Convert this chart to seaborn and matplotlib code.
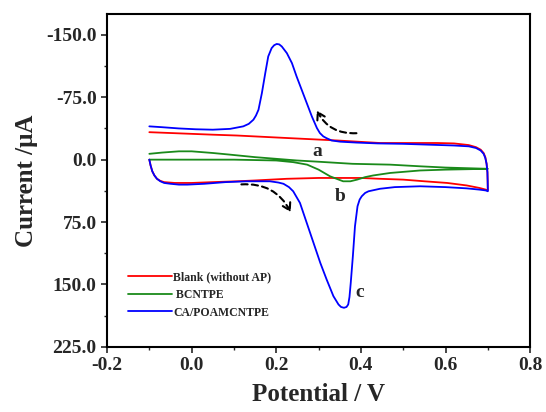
import numpy as np
import pandas as pd
import matplotlib
matplotlib.use("Agg")
import matplotlib.pyplot as plt
from matplotlib.patches import FancyArrowPatch
from matplotlib.ticker import MultipleLocator, FormatStrFormatter
import seaborn as sns

# ---- data ----
blank_E = [-0.100, -0.097, -0.093, -0.088, -0.082, -0.074, -0.065, -0.040, 0.000, 0.050, 0.107,
           0.150, 0.225, 0.300, 0.400, 0.445, 0.500, 0.550, 0.604, 0.650, 0.680, 0.695, 0.700,
           0.6995, 0.699, 0.697, 0.694, 0.690, 0.683, 0.672, 0.655, 0.620, 0.580, 0.500,
           0.445, 0.345, 0.225, 0.107, 0.050, -0.050, -0.100]
blank_I = [0, 7, 14, 19, 23, 25.5, 27, 28, 28, 27, 26,
           25, 23, 22, 22, 23, 24, 26, 28, 31, 34, 36, 37,
           25, 15, 5, -3, -8, -12, -15, -17.5, -19.5, -20, -20,
           -20, -23, -26, -29, -30, -32, -33]

bcnt_E = [-0.100, 0.000, 0.100, 0.200, 0.240, 0.273, 0.300, 0.327, 0.358, 0.375, 0.391,
          0.410, 0.429, 0.469, 0.540, 0.600, 0.650, 0.700,
          0.600, 0.540, 0.469, 0.380, 0.300, 0.249, 0.150, 0.091, 0.050, 0.000, -0.030,
          -0.070, -0.100]
bcnt_I = [0, 0, 0, 1, 3, 6, 12, 20, 26, 26, 24,
          21, 19, 16, 13, 12, 11.5, 11,
          9.5, 8, 6, 5, 2.5, 1, -3, -6, -8, -10, -10,
          -8.5, -7]

ca_E = [-0.100, -0.097, -0.093, -0.088, -0.082, -0.074, -0.065, -0.050, -0.030, -0.010,
        0.030, 0.080, 0.130, 0.185, 0.205, 0.217, 0.230, 0.240, 0.256, 0.272, 0.288, 0.304,
        0.319, 0.335, 0.347, 0.353, 0.360, 0.366, 0.370, 0.373, 0.376, 0.381, 0.386, 0.392,
        0.397, 0.402, 0.410, 0.418, 0.445, 0.480, 0.540, 0.600, 0.650, 0.680, 0.695, 0.700,
        0.6995, 0.699, 0.697, 0.694, 0.690, 0.683, 0.672, 0.655, 0.620, 0.560, 0.500,
        0.440, 0.390, 0.351, 0.331, 0.318, 0.311, 0.303, 0.296, 0.284, 0.272, 0.260, 0.248,
        0.237, 0.225, 0.213, 0.207, 0.201, 0.195, 0.189, 0.181, 0.174, 0.166, 0.158, 0.152,
        0.146, 0.135, 0.122, 0.091, 0.050, 0.010, -0.030, -0.070, -0.100]
ca_I = [0, 7, 14, 19, 23, 26, 28, 29, 30, 30,
        29, 27, 26, 26, 27.5, 29, 33, 38, 52, 76, 100, 124,
        144, 164, 174, 177, 178, 177, 174, 165, 148, 116, 80, 56,
        48, 44, 40, 38, 35, 33, 32, 33, 34.5, 36, 37, 38,
        25, 15, 5, -2, -7, -11, -14, -16, -17, -18, -19,
        -19.5, -20.5, -21.6, -23, -26, -28, -32, -38, -52, -68, -84, -100,
        -116, -128, -136, -138.5, -139, -137.5, -134, -124, -104, -80, -60, -53,
        -48, -43, -40, -37, -36, -36.5, -37.5, -39, -40]

labels = ["Blank (without AP)", " BCNTPE", "CA/POAMCNTPE"]
colors = ["#ff0000", "#1a8a1a", "#0000ff"]

x_ticks = [-0.2, 0.0, 0.2, 0.4, 0.6, 0.8]
y_ticks = [-150.0, -75.0, 0.0, 75.0, 150.0, 225.0]

# ---- style ----
sns.set_theme(style="ticks")
plt.rcParams["font.family"] = ["Liberation Serif", "DejaVu Serif"]
plt.rcParams["font.weight"] = "bold"
plt.rcParams["axes.labelweight"] = "bold"
plt.rcParams["axes.unicode_minus"] = False
plt.rcParams["lines.solid_joinstyle"] = "round"

fig = plt.figure(figsize=(5.46, 4.12), dpi=100)
ax = fig.add_axes([0.196, 0.158, 0.775, 0.808])

frames = []
for E, I, lab in zip([blank_E, bcnt_E, ca_E], [blank_I, bcnt_I, ca_I], labels):
    frames.append(pd.DataFrame({"E": E, "I": I, "curve": lab}))
df = pd.concat(frames, ignore_index=True)

for lab, col in zip(labels, colors):
    sub = df[df["curve"] == lab]
    sns.lineplot(data=sub, x="E", y="I", sort=False, estimator=None, color=col,
                 lw=1.3, ax=ax, label=lab)

ax.set_xlim(-0.2, 0.8)
ax.set_ylim(225, -175)
ax.set_xticks(x_ticks)
ax.set_yticks(y_ticks)
ax.xaxis.set_minor_locator(MultipleLocator(0.1))
ax.yaxis.set_minor_locator(MultipleLocator(37.5))
ax.xaxis.set_major_formatter(FormatStrFormatter("%.1f"))
ax.yaxis.set_major_formatter(FormatStrFormatter("%.1f"))
ax.tick_params(which="major", direction="out", length=4.5, width=1.2, labelsize=14, pad=3)
ax.tick_params(which="minor", direction="out", length=2.5, width=1.0)
for lab in ax.get_xticklabels() + ax.get_yticklabels():
    lab.set_fontweight("bold")
for s in ax.spines.values():
    s.set_linewidth(1.5)
    s.set_color("black")

ax.set_xlabel("Potential / V", fontsize=18, fontweight="bold", labelpad=6)
ax.set_ylabel("Current /\u03bcA", fontsize=18, fontweight="bold", labelpad=6)

# curve labels
ax.text(0.296, -10, "a", fontsize=14, fontweight="bold", ha="center", va="center")
ax.text(0.351, 44, "b", fontsize=14, fontweight="bold", ha="center", va="center")
ax.text(0.398, 160, "c", fontsize=14, fontweight="bold", ha="center", va="center")

# scan direction arrows
a1 = FancyArrowPatch((0.396, -32), (0.293, -62), connectionstyle="arc3,rad=-0.35",
                     arrowstyle="->,head_length=5,head_width=3", lw=1.5, ls=(0, (3, 2)),
                     color="black")
ax.add_patch(a1)
a2 = FancyArrowPatch((0.111, 30), (0.237, 66), connectionstyle="arc3,rad=-0.35",
                     arrowstyle="->,head_length=5,head_width=3", lw=1.5, ls=(0, (3, 2)),
                     color="black")
ax.add_patch(a2)

leg = ax.legend(loc="lower left", bbox_to_anchor=(0.05, 0.085), frameon=False,
                prop={"family": "Liberation Serif", "weight": "bold", "size": 8.5},
                handlelength=3.7, handletextpad=0.1, labelspacing=0.5, borderpad=0,
                borderaxespad=0)

fig.savefig("out.png", dpi=100)
